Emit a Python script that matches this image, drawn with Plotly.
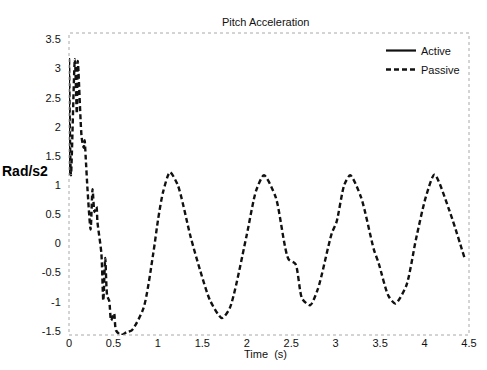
import plotly.graph_objects as go

# Pitch acceleration response (rad/s^2) versus time (s)
passive_t = [0.000, 0.022, 0.066, 0.088, 0.099, 0.143, 0.165, 0.176, 0.187, 0.209,
             0.243, 0.265, 0.287, 0.309, 0.320, 0.364, 0.386, 0.408, 0.430, 0.452,
             0.474, 0.507, 0.529, 0.584, 0.650, 0.706, 0.838, 0.948, 1.003, 1.058,
             1.136, 1.224, 1.367, 1.477, 1.588, 1.720, 1.808, 1.996, 2.106, 2.194,
             2.326, 2.470, 2.547, 2.624, 2.712, 2.800, 2.955, 3.010, 3.098, 3.164,
             3.286, 3.429, 3.484, 3.594, 3.671, 3.793, 3.903, 4.013, 4.112, 4.278,
             4.454]
passive_a = [3.16, 1.17, 3.16, 2.23, 3.13, 1.81, 1.64, 1.77, 1.50, 0.91,
             0.24, 0.93, 0.54, 0.63, 0.37, -0.17, -0.98, -0.25, -0.90, -0.98,
             -1.32, -1.20, -1.49, -1.57, -1.52, -1.49, -1.11, -0.17, 0.42, 0.88,
             1.22, 1.00, 0.12, -0.47, -0.98, -1.28, -1.11, 0.12, 0.91, 1.17,
             0.79, -0.27, -0.35, -0.95, -1.06, -0.78, 0.17, 0.37, 1.01, 1.17,
             0.79, -0.10, -0.34, -0.90, -1.03, -0.73, 0.07, 0.79, 1.18, 0.57,
             -0.27]

active_t = [0.000, 0.003]
active_a = [3.18, 1.17]

x_ticks = [0, 0.5, 1, 1.5, 2, 2.5, 3, 3.5, 4, 4.5]
x_tick_text = ["0", "0.5", "1", "1.5", "2", "2.5", "3", "3.5", "4", "4.5"]
y_ticks = [-1.5, -1, -0.5, 0, 0.5, 1, 1.5, 2, 2.5, 3, 3.5]
y_tick_text = ["-1.5", "-1", "-0.5", "0", "0.5", "1", "1.5", "2", "2.5", "3", "3.5"]

FONT = "Liberation Sans, Arial, sans-serif"

fig = go.Figure()
fig.add_trace(go.Scatter(
    x=active_t, y=active_a, name="Active", mode="lines",
    line=dict(color="#111111", width=2.2),
))
fig.add_trace(go.Scatter(
    x=passive_t, y=passive_a, name="Passive", mode="lines",
    line=dict(color="#111111", width=2.4, dash="5px,3px", shape="spline", smoothing=0.7),
))

# faint dotted frame around the plotting area
fig.add_shape(type="rect", xref="paper", yref="paper", x0=0, y0=0, x1=1, y1=1,
              line=dict(color="#a8a8a8", width=1, dash="dot"))

fig.add_annotation(text="Pitch Acceleration", xref="paper", yref="paper",
                   x=0.49, y=1.0, yshift=19, showarrow=False,
                   font=dict(family=FONT, size=11, color="#111111"))
# y-axis unit label, sitting left of the tick labels
fig.add_annotation(text="<b>Rad/s2</b>", xref="paper", yref="y",
                   x=0, xshift=-19, y=1.25, xanchor="right", showarrow=False,
                   font=dict(family=FONT, size=14, color="#000000"))
fig.add_annotation(text="Time  (s)", xref="paper", yref="paper",
                   x=0.49, y=0, yshift=-27, showarrow=False,
                   font=dict(family=FONT, size=11, color="#111111"))

fig.update_layout(
    width=487, height=370,
    margin=dict(l=69, r=10, t=33, b=35),
    paper_bgcolor="white", plot_bgcolor="white",
    font=dict(family=FONT, size=11, color="#111111"),
    showlegend=True,
    legend=dict(x=0.99, y=0.99, xanchor="right", yanchor="top",
                bgcolor="rgba(0,0,0,0)", itemwidth=30,
                font=dict(family=FONT, size=11, color="#111111"),
                tracegroupgap=0),
    xaxis=dict(range=[0, 4.5], tickvals=x_ticks, ticktext=x_tick_text,
               showgrid=False, zeroline=False, showline=False, ticks=""),
    yaxis=dict(range=[-1.57, 3.61], tickvals=y_ticks, ticktext=y_tick_text,
               showgrid=False, zeroline=False, showline=False,
               ticks="outside", ticklen=5, tickcolor="rgba(0,0,0,0)"),
)

fig.write_html("out.html")
